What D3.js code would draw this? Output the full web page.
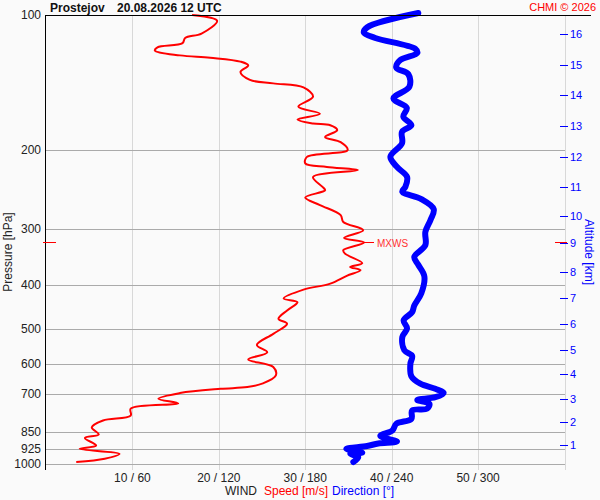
<!DOCTYPE html>
<html lang="en">
<head>
<meta charset="UTF-8">
<title>Prostejov wind profile</title>
<script src="https://d3js.org/d3.v7.min.js"></script>
<style>
  body { margin: 0; background: #fafafa; }
  svg { display: block; font-family: "Liberation Sans", Arial, sans-serif; }
</style>
</head>
<body>
<svg width="600" height="500"></svg>
<script>
// pressure levels [hPa] and wind speed [m/s]
const speedP = [100,103,110,112.5,115.5,118,120,123,124.5,127,129.5,134,139.5,142,145,152,160,166,171,174.5,
  176,180.5,187,192,200,207,214,218,221.5,229.5,241.5,245.5,255,265,279,289,301.5,313.5,321,334,
  340,357,364,370,381,396.5,409,428,436,455,475,487,513,543,564,585,608,635,661.5,674,
  680,695,715.5,733,753,780,800,829,859.5,875,909.5,925,949,973.5,990];
const speedVal = [16.9,19.8,18.0,16.1,15.8,12.9,12.6,15.5,19.0,22.5,23.4,22.5,23.6,26.3,29.8,30.9,29.2,31.7,29.1,30.9,
  32.9,33.7,32.3,34.1,34.9,30.2,30.0,32.5,36.1,30.9,32.0,32.3,30.0,31.7,34.1,34.4,36.7,34.5,36.8,34.4,
  34.6,36.6,35.2,36.4,34.8,32.9,29.8,27.5,29.1,27.9,26.9,27.9,26.3,24.4,25.6,23.4,26.3,26.6,25.1,23.3,
  20.2,15.5,13.0,15.3,9.8,9.8,6.6,5.3,6.1,4.5,5.8,3.9,8.5,6.8,3.5];

// pressure levels [hPa] and wind direction [deg]
const dirP = [99,106.5,109.5,112.5,119,121.5,126,131,135.5,144.5,153.5,161,168.5,176,182,193,207,218,229.5,241.5,
  247.5,257,270.5,286.5,304,325.5,346,359,382,416.5,443.5,459,478.5,499,521.5,558,574.5,598,638,662.5,
  680,694.5,710,720,734,753,760,793,813.5,842,866,891,900,912,925,943,949,966,990];
const dirVal = [258.5,223.1,220.7,228.6,256.4,257.8,246.0,243.2,251.6,252.3,241.2,250.5,248.1,253.7,247.2,247.2,239.1,243.7,250.7,249.5,
  247.4,260.6,269.2,266.9,263.4,263.4,255.7,258.2,262.7,260.6,255.7,254.2,248.3,250.7,247.4,248.8,254.2,253.0,253.7,259.9,
  270.3,276.1,270.3,257.8,266.2,264.6,254.2,253.7,243.2,240.5,232.1,243.7,230.7,222.9,208.5,219.6,211.3,216.8,213.4];

// axis ticks
const pressureTicks = [100,200,300,400,500,600,700,850,925,1000];
const speedTicks = [10,20,30,40,50,60];
const altKm = [1,2,3,4,5,6,7,8,9,10,11,12,13,14,15,16];
const altP = [909,807,716,629,558,489,426,374,322,280,241,207,176.5,151,129.5,110.4];

// max wind
const mxwsP = 321;
const mxwsSpeed = 36.8;

const svg = d3.select("svg");

const y = d3.scaleLog().domain([100, 1000]).range([15, 464]);
const xs = d3.scaleLinear().domain([0, 60]).range([46, 564.5]);
const xd = d3.scaleLinear().domain([0, 360]).range([46, 564.5]);

// grid
svg.append("g").selectAll("line").data(speedTicks).join("line")
  .attr("x1", d => Math.round(xs(d)) + 0.5).attr("x2", d => Math.round(xs(d)) + 0.5)
  .attr("y1", 15).attr("y2", 470)
  .attr("stroke", "#d8d8d8");

svg.append("g").selectAll("line").data(pressureTicks.slice(1)).join("line")
  .attr("x1", 46).attr("x2", 565)
  .attr("y1", d => Math.round(y(d)) + 0.5).attr("y2", d => Math.round(y(d)) + 0.5)
  .attr("stroke", "#aaaaaa");

// curves
const speedData = speedP.map((p, i) => ({ p, v: speedVal[i] }));
const dirData = dirP.map((p, i) => ({ p, v: dirVal[i] }));

svg.append("path").datum(speedData)
  .attr("fill", "none").attr("stroke", "#ff0000").attr("stroke-width", 2)
  .attr("d", d3.line().x(d => xs(d.v)).y(d => y(d.p)).curve(d3.curveCatmullRom.alpha(0.5)));

svg.append("path").datum(dirData)
  .attr("fill", "none").attr("stroke", "#0000ff").attr("stroke-width", 6)
  .attr("stroke-linecap", "round").attr("stroke-linejoin", "round")
  .attr("d", d3.line().x(d => xd(d.v)).y(d => y(d.p)).curve(d3.curveCatmullRom.alpha(0.5)));

// frame
svg.append("line").attr("x1", 45).attr("x2", 591).attr("y1", 15.5).attr("y2", 15.5).attr("stroke", "#000");
svg.append("line").attr("x1", 45.5).attr("x2", 45.5).attr("y1", 15).attr("y2", 470).attr("stroke", "#000");

// pressure labels
svg.append("g").selectAll("text").data(pressureTicks).join("text")
  .attr("x", 41).attr("y", d => y(d) + 4)
  .attr("text-anchor", "end").attr("font-size", 12).attr("fill", "#222")
  .text(d => d);

svg.append("text").attr("transform", "translate(12,252) rotate(-90)")
  .attr("text-anchor", "middle").attr("font-size", 12).attr("fill", "#222")
  .text("Pressure [hPa]");

// speed / direction labels
svg.append("g").selectAll("text").data(speedTicks.slice(0, 5)).join("text")
  .attr("x", d => xs(d)).attr("y", 482)
  .attr("text-anchor", "middle").attr("font-size", 12).attr("fill", "#222")
  .text(d => `${d} / ${d * 6}`);

const legend = svg.append("text").attr("y", 495).attr("font-size", 12);
legend.append("tspan").attr("x", 225).attr("fill", "#222").text("WIND");
legend.append("tspan").attr("x", 264).attr("fill", "#ff0000").text("Speed [m/s]");
legend.append("tspan").attr("x", 332).attr("fill", "#0000ff").text("Direction [°]");

// altitude axis
const alt = svg.append("g");
alt.selectAll("line").data(altKm).join("line")
  .attr("x1", 560).attr("x2", 568)
  .attr("y1", (d, i) => Math.round(y(altP[i])) + 0.5).attr("y2", (d, i) => Math.round(y(altP[i])) + 0.5)
  .attr("stroke", "#0000ff");
alt.selectAll("text").data(altKm).join("text")
  .attr("x", 570).attr("y", (d, i) => y(altP[i]) + 4)
  .attr("font-size", 11).attr("fill", "#0000ff")
  .text(d => d);

svg.append("text").attr("transform", "translate(585,252) rotate(90)")
  .attr("text-anchor", "middle").attr("font-size", 12).attr("fill", "#0000ff")
  .text("Altitude [km]");

// max wind marker
const my = Math.round(y(mxwsP)) + 0.5;
svg.append("line").attr("x1", 43).attr("x2", 56).attr("y1", my).attr("y2", my).attr("stroke", "#ff0000");
svg.append("line").attr("x1", 555).attr("x2", 567).attr("y1", my).attr("y2", my).attr("stroke", "#ff0000");
svg.append("line").attr("x1", xs(mxwsSpeed)).attr("x2", 374).attr("y1", my).attr("y2", my).attr("stroke", "#ff0000");
svg.append("text").attr("x", 377).attr("y", my + 4)
  .attr("font-size", 10).attr("fill", "#ff3333").text("MXWS");

// title
svg.append("text").attr("x", 50).attr("y", 12).attr("font-size", 12).attr("font-weight", "bold")
  .attr("fill", "#111").text("Prostejov");
svg.append("text").attr("x", 117).attr("y", 12).attr("font-size", 12).attr("font-weight", "bold")
  .attr("fill", "#111").text("20.08.2026 12 UTC");
svg.append("text").attr("x", 596).attr("y", 11).attr("text-anchor", "end")
  .attr("font-size", 11).attr("fill", "#ff0000").text("CHMI © 2026");
</script>
</body>
</html>
